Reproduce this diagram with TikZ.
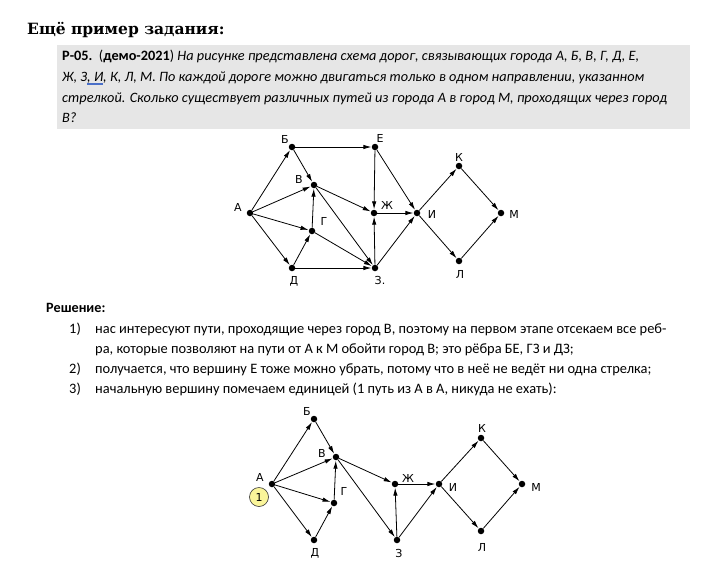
\documentclass[tikz,border=0pt]{standalone}
\usepackage{fontspec}
\setmainfont{Carlito}
\newfontfamily\titlefont{DejaVu Serif}
\newfontfamily\lblfont{DejaVu Sans}
\usetikzlibrary{arrows.meta}
\definecolor{boxgray}{HTML}{E6E6E6}
\definecolor{spellblue}{HTML}{4A6FC8}
\definecolor{markyellow}{HTML}{FAF59A}
\newcommand\spellul[1]{\setbox0\hbox{#1}\rlap{\color{spellblue}\rule[-2.4pt]{\wd0}{0.45pt}}\rlap{\color{spellblue}\rule[-3.8pt]{\wd0}{0.45pt}}\box0}
\begin{document}
\begin{tikzpicture}[x=1pt,y=-1pt,
  dot/.style={circle, fill=black, inner sep=0pt, minimum size=6.5pt},
  edge/.style={-{Latex[length=8pt,width=4.4pt]}, line width=0.8pt, shorten >=0.2pt},
  lbl/.style={font=\lblfont\fontsize{11}{12}\selectfont, inner sep=0pt},
  boxline/.style={anchor=base west, inner sep=0pt, font=\fontsize{14.3}{17}\selectfont},
  solline/.style={anchor=base west, inner sep=0pt, font=\fontsize{14.4}{17}\selectfont}]
\useasboundingbox (0,0) rectangle (723,566);
\fill[white] (0,0) rectangle (723,566);
% title
\node[anchor=base west, inner sep=0pt, font=\titlefont\bfseries\fontsize{15.5}{18}\selectfont] (title) at (27,34) {Ещё пример задания:};
% task box
\fill[boxgray] (57,45) rectangle (690,129);
\node[boxline] (t1) at (62,60) {\textbf{Р-05.}\ \ (\textbf{демо-2021}) \textit{На рисунке представлена схема дорог, связывающих города А, Б, В, Г, Д, Е,}};
\node[boxline] (t2) at (62,81) {\textit{Ж, З\spellul{, И}, К, Л, М. По каждой дороге можно двигаться только в одном направлении, указанном}};
\node[boxline] (t3) at (62,102) {\textit{стрелкой. Сколько существует различных путей из города А в город М, проходящих через город}};
\node[boxline] (t4) at (62,122) {\textit{В?}};
% graph 1
\node[dot] (A) at (250,213) {};
\node[dot] (B) at (292,147) {};
\node[dot] (V) at (314,185) {};
\node[dot] (G) at (312,231) {};
\node[dot] (D) at (292,268) {};
\node[dot] (E) at (375,147) {};
\node[dot] (Zh) at (374,213) {};
\node[dot] (Z) at (375,268) {};
\node[dot] (I) at (417,213) {};
\node[dot] (K) at (459,166) {};
\node[dot] (M) at (501,213) {};
\node[dot] (L) at (459,261) {};
\node[lbl] (lA) at (238,207) {А};
\node[lbl] (lB) at (285,139) {Б};
\node[lbl] (lV) at (299,179) {В};
\node[lbl] (lG) at (324,221) {Г};
\node[lbl] (lD) at (294,281) {Д};
\node[lbl] (lE) at (380,138) {Е};
\node[lbl] (lZh) at (387,205) {Ж};
\node[lbl] (lI) at (432,214) {И};
\node[lbl] (lK) at (459,157) {К};
\node[lbl] (lM) at (514,214) {М};
\node[lbl] (lL) at (460,274) {Л};
\node[lbl] (lZ) at (380,280) {З.};
\foreach \s/\t in {A/B, A/V, A/G, A/D, B/E, B/V, V/Zh, V/Z, G/V, G/Z, D/G, D/Z, E/Zh, E/I, Zh/I, Z/Zh, Z/I, I/K, I/L, K/M, L/M}
  \draw[edge] (\s) -- (\t);
% solution
\node[anchor=base west, inner sep=0pt, font=\bfseries\fontsize{14.2}{17}\selectfont] (sol) at (46,312) {Решение:};
\node[solline] (n1) at (69,333) {1)};
\node[solline] (s1) at (95,333) {нас интересуют пути, проходящие через город В, поэтому на первом этапе отсекаем все реб-};
\node[solline] (s1b) at (95,353) {ра, которые позволяют на пути от А к М обойти город В; это рёбра БЕ, ГЗ и ДЗ;};
\node[solline] (n2) at (69,373) {2)};
\node[solline] (s2) at (95,373) {получается, что вершину Е тоже можно убрать, потому что в неё не ведёт ни одна стрелка;};
\node[solline] (n3) at (69,393) {3)};
\node[solline] (s3) at (95,393) {начальную вершину помечаем единицей (1 путь из А в А, никуда не ехать):};
% graph 2
\node[dot] (A2) at (272,484) {};
\node[dot] (B2) at (314,419) {};
\node[dot] (V2) at (336,457) {};
\node[dot] (G2) at (334,503) {};
\node[dot] (D2) at (314,540) {};
\node[dot] (Zh2) at (395,484) {};
\node[dot] (Z2) at (397,540) {};
\node[dot] (I2) at (439,484) {};
\node[dot] (K2) at (481,438) {};
\node[dot] (M2) at (522,484) {};
\node[dot] (L2) at (481,531) {};
\node[lbl] (lA2) at (260,477) {А};
\node[lbl] (lB2) at (307,411) {Б};
\node[lbl] (lV2) at (322,453) {В};
\node[lbl] (lG2) at (344,491) {Г};
\node[lbl] (lD2) at (315,553) {Д};
\node[lbl] (lZh2) at (408,478) {Ж};
\node[lbl] (lI2) at (453,487) {И};
\node[lbl] (lK2) at (482,428) {К};
\node[lbl] (lM2) at (536,487) {М};
\node[lbl] (lL2) at (482,547) {Л};
\node[lbl] (lZ2) at (399,553) {З};
\node[circle, draw=black!80, line width=0.6pt, fill=markyellow, minimum size=19pt, inner sep=0pt, font=\lblfont\fontsize{11}{12}\selectfont] (one) at (259,497) {1};
\foreach \s/\t in {A2/B2, A2/V2, A2/G2, A2/D2, B2/V2, G2/V2, D2/G2, V2/Zh2, V2/Z2, Z2/Zh2, Zh2/I2, Z2/I2, I2/K2, I2/L2, K2/M2, L2/M2}
  \draw[edge] (\s) -- (\t);
\end{tikzpicture}
\end{document}
